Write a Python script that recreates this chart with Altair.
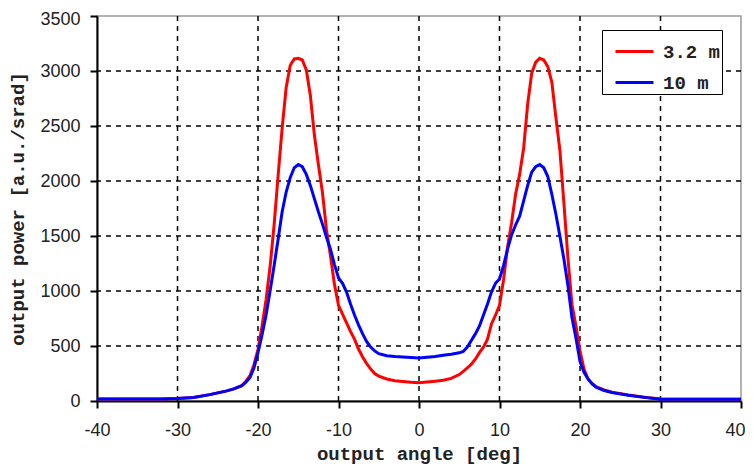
import altair as alt
import pandas as pd

# ---- data ----
angles = [-40, -35, -32, -30, -28, -26, -24, -23, -22, -21.5,
          -21, -20.5, -20, -19.5, -19, -18.5, -18, -17.5, -17, -16.5,
          -16, -15.5, -15, -14.5, -14, -13.5, -13, -12.5, -12, -11.5,
          -11, -10.5, -10, -9.5, -9, -8.5, -8, -7.5, -7, -6.5,
          -6, -5.5, -5, -4, -3, -2, -1, 0,
          1, 2, 3, 4, 5, 5.5, 6, 6.5, 7, 7.5,
          8, 8.5, 9, 9.5, 10, 10.5, 11, 11.5, 12, 12.5,
          13, 13.5, 14, 14.5, 15, 15.5, 16, 16.5, 17, 17.5,
          18, 18.5, 19, 19.5, 20, 20.5, 21, 21.5, 22, 23,
          24, 26, 28, 30, 32, 35, 40]

power_3_2m = [18, 18, 18, 22, 32, 58, 90, 110, 140, 180,
              230, 330, 470, 680, 920, 1220, 1600, 2050, 2480, 2850,
              3050, 3110, 3115, 3100, 3010, 2780, 2420, 2150, 1900, 1560,
              1320, 1060, 870, 790, 710, 630, 560, 470, 400, 340,
              290, 250, 225, 200, 185, 178, 170, 165,
              172, 180, 188, 205, 240, 270, 300, 335, 380, 440,
              490, 560, 700, 780, 870, 1100, 1400, 1620, 1880, 2060,
              2300, 2700, 2980, 3080, 3115, 3100, 3040, 2900, 2580, 2280,
              1800, 1300, 880, 680, 455, 290, 200, 160, 130, 100,
              80, 55, 35, 18, 16, 16, 16]

power_10m = [18, 18, 18, 22, 32, 58, 90, 110, 140, 170,
             215, 300, 440, 600, 780, 1000, 1230, 1470, 1720, 1900,
             2030, 2120, 2150, 2130, 2060, 1960, 1840, 1720, 1610, 1490,
             1380, 1240, 1120, 1070, 990, 880, 780, 690, 610, 540,
             490, 455, 430, 412, 405, 400, 395, 390,
             398, 405, 415, 425, 438, 450, 490, 550, 610, 680,
             780, 880, 990, 1070, 1110, 1230, 1380, 1510, 1600, 1680,
             1820, 1960, 2080, 2130, 2150, 2120, 2040, 1880, 1700, 1500,
             1290, 1050, 760, 570, 360, 260, 200, 155, 125, 95,
             76, 52, 33, 17, 16, 16, 16]

series_names = ["3.2 m", "10 m"]
series_colors = ["#ff0000", "#0000ff"]

x_ticks = [-40, -30, -20, -10, 0, 10, 20, 30, 40]
y_ticks = [0, 500, 1000, 1500, 2000, 2500, 3000, 3500]
x_grid = [-30, -20, -10, 0, 10, 20, 30]
y_grid = [500, 1000, 1500, 2000, 2500, 3000]

# ---- tables ----
df = pd.concat([
    pd.DataFrame({"angle": angles, "power": power_3_2m, "series": series_names[0]}),
    pd.DataFrame({"angle": angles, "power": power_10m, "series": series_names[1]}),
], ignore_index=True)
df_xgrid = pd.DataFrame({"angle": x_grid})
df_ygrid = pd.DataFrame({"power": y_grid})

title_font = "Liberation Mono"
label_font = "Liberation Sans"

x_axis = alt.Axis(values=x_ticks, title="output angle [deg]", grid=False,
                  labelExpr="'' + datum.value",
                  labelOffset={"condition": {"test": "datum.value == 40", "value": -6}, "value": 0},
                  titleFont=title_font, titleFontSize=19, titleFontWeight="bold",
                  titleColor="#222", titleY=52, titleX=322, titleBaseline="middle",
                  labelFont=label_font, labelFontSize=18, labelColor="#222",
                  labelPadding=13, tickSize=7, tickColor="black", tickWidth=2,
                  domainColor="black", domainWidth=2, labelFlush=False)
y_axis = alt.Axis(values=y_ticks, title="output power [a.u./srad]", grid=False,
                  labelExpr="'' + datum.value",
                  labelOffset={"condition": {"test": "datum.value == 3500", "value": 3}, "value": 0},
                  titleFont=title_font, titleFontSize=19, titleFontWeight="bold",
                  titleColor="#222", titleX=-80, titleY=192.5, titleAngle=270,
                  titleAlign="center", titleBaseline="middle",
                  labelFont=label_font, labelFontSize=18, labelColor="#222",
                  labelPadding=10, tickSize=7, tickColor="black", tickWidth=2,
                  domainColor="black", domainWidth=2, labelFlush=False)

x_scale = alt.Scale(domain=[-40, 40], nice=False, zero=False)
y_scale = alt.Scale(domain=[0, 3500], nice=False)

color_enc = alt.Color("series:N",
                      scale=alt.Scale(domain=series_names, range=series_colors),
                      legend=alt.Legend(title=None, orient="none", legendX=505, legendY=14,
                                        symbolType="stroke", symbolSize=1444,
                                        symbolStrokeWidth=3, symbolOffset=11,
                                        labelFont=title_font, labelFontSize=19,
                                        labelFontWeight="bold", labelColor="#222",
                                        labelOffset=8, rowPadding=0, padding=1,
                                        strokeColor="black", fillColor="white"))

xgrid = alt.Chart(df_xgrid).mark_rule(color="black", strokeWidth=1.5, strokeDash=[5, 5]).encode(
    x=alt.X("angle:Q", scale=x_scale, axis=x_axis))
ygrid = alt.Chart(df_ygrid).mark_rule(color="black", strokeWidth=1.5, strokeDash=[5, 5]).encode(
    y=alt.Y("power:Q", scale=y_scale, axis=y_axis))

line_red = alt.Chart(df).transform_filter(alt.datum.series == series_names[0]).mark_line(
    strokeWidth=3).encode(
    x=alt.X("angle:Q", scale=x_scale, axis=x_axis),
    y=alt.Y("power:Q", scale=y_scale, axis=y_axis),
    color=color_enc)
line_blue = alt.Chart(df).transform_filter(alt.datum.series == series_names[1]).mark_line(
    strokeWidth=3).encode(
    x=alt.X("angle:Q", scale=x_scale, axis=x_axis),
    y=alt.Y("power:Q", scale=y_scale, axis=y_axis),
    color=color_enc)

chart = alt.layer(xgrid, ygrid, line_red, line_blue).properties(
    width=644, height=385,
    autosize=alt.AutoSizeParams(type="none"),
    padding={"left": 89, "top": 8, "right": 4, "bottom": 64},
    background="white",
).configure_view(stroke="#999999", strokeWidth=1.5)

chart.save("out.html", embed_options={"renderer": "svg", "actions": False})
